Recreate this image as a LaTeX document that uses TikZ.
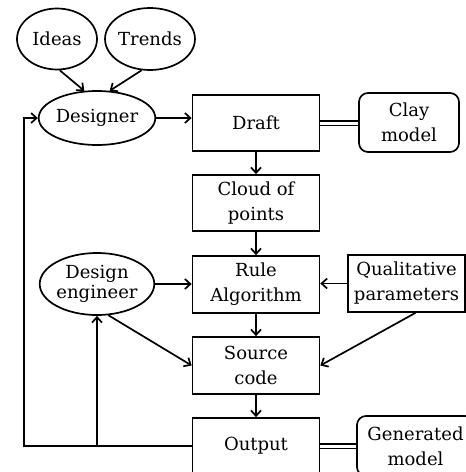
\documentclass[tikz,border=0pt]{standalone}
\usepackage{fontspec}
\setmainfont{DejaVu Serif}
\usetikzlibrary{shapes.geometric,arrows.meta}

\begin{document}
\begin{tikzpicture}[x=1pt,y=-1pt,
  line width=1.7pt,
  every node/.style={font=\fontsize{18}{25}\selectfont, align=center, inner sep=0pt},
  stepbox/.style={draw, rectangle, minimum width=127pt, minimum height=56pt},
  roundbox/.style={draw, rectangle, rounded corners=9pt},
  oval/.style={draw, ellipse},
  conn/.style={line width=1.7pt, -{Straight Barb[length=5.5pt,width=10pt]}},
  link/.style={double, double distance=3pt, line width=1.3pt}]

\clip (0,0) rectangle (466,472);

% actors and inputs
\node[oval, minimum width=80pt, minimum height=61pt] (ideas) at (57,39) {Ideas};
\node[oval, minimum width=86pt, minimum height=62pt] (trends) at (150,39) {Trends};
\node[oval, minimum width=114pt, minimum height=54pt] (designer) at (97,118) {Designer};
\node[oval, minimum width=112pt, minimum height=62pt] (deng) at (97,284) {\raisebox{5pt}{\shortstack{Design\\engineer}}};

% main process chain
\node[stepbox] (draft) at (256,123) {Draft};
\node[stepbox] (cloud) at (256,203) {Cloud of\\points};
\node[stepbox, minimum height=57pt] (rule) at (256,284.5) {Rule\\Algorithm};
\node[stepbox, minimum height=57pt] (src) at (256,365.5) {Source\\code};
\node[stepbox] (out) at (256,446) {Output};

% side items
\node[roundbox, minimum width=100pt, minimum height=59pt] (clay) at (409,122.5) {Clay\\model};
\node[stepbox, minimum width=117pt, minimum height=57pt] (qual) at (406.5,283.5) {Qualitative\\parameters};
\node[roundbox, minimum width=117pt, minimum height=60pt] (gen) at (415.5,446) {Generated\\model};

\coordinate (fbx) at (24,0);

% connectors
\draw[conn] (ideas.-85) -- (designer.115);
\draw[conn] (trends.-105) -- (designer.65);
\draw[conn] (designer.east) -- (designer.east -| draft.west);
\draw[conn] (draft) -- (cloud);
\draw[conn] (cloud) -- (rule);
\draw[conn] (rule) -- (src);
\draw[conn] (src) -- (out);
\draw[conn] (deng.east) -- (deng.east -| rule.west);
\draw[conn] (qual.west) -- (qual.west -| rule.east);
\draw[conn] (deng.-70) -- (src.west);
\draw[conn] ([xshift=9pt]qual.south) -- (src.east);

% feedback loop from the output
\draw[conn] (out.west) -- (out.west -| fbx) |- (designer.west);
\draw[conn] (out.west -| deng.south) -- (deng.south);

% physical models
\draw[link] (draft.east) -- (draft.east -| clay.west);
\draw[link] (out.east) -- (out.east -| gen.west);

\end{tikzpicture}
\end{document}
